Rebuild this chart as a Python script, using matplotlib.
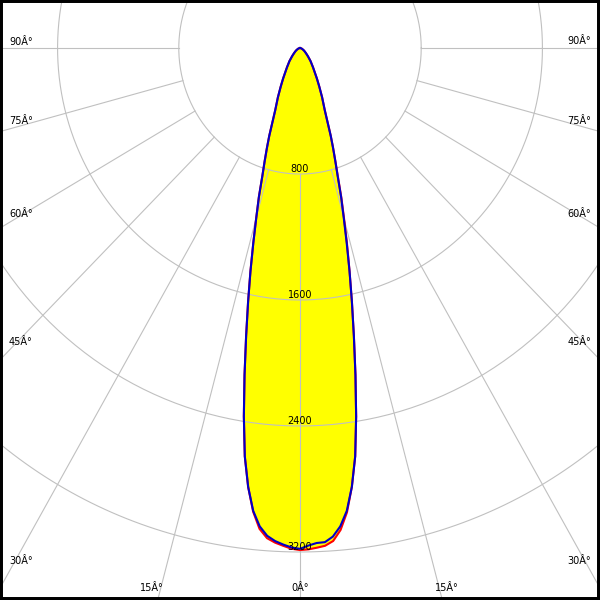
import numpy as np
import matplotlib
matplotlib.use('Agg')
import matplotlib.pyplot as plt

# polar intensity curves, cd (gamma in degrees)
gamma = [0, 1, 2, 3, 4, 5, 6, 7, 8, 9, 10, 11, 12, 13, 14, 15, 16, 17, 18, 19, 20,
         22.5, 25, 27.5, 30, 35, 40, 45, 50, 55, 60, 70, 80, 90]
blue_left = [3180, 3172, 3155, 3135, 3105, 3049, 2955, 2808, 2618, 2369, 2108, 1864, 1648,
             1453, 1273, 1115, 985, 850, 754, 670, 593, 427, 345, 275, 222, 150, 108, 74,
             52, 38, 28, 14, 5, 0]
blue_right = [3180, 3160, 3145, 3142, 3110, 3049, 2955, 2808, 2618, 2369, 2108, 1864, 1648,
              1453, 1273, 1115, 985, 850, 754, 670, 593, 427, 345, 275, 222, 150, 108, 74,
              52, 38, 28, 14, 5, 0]
red_left = [3188, 3180, 3163, 3145, 3120, 3065, 2960, 2808, 2618, 2369, 2108, 1864, 1648,
            1453, 1273, 1115, 985, 850, 754, 670, 593, 427, 345, 275, 222, 150, 108, 74,
            52, 38, 28, 14, 5, 0]
red_right = [3188, 3184, 3175, 3165, 3138, 3072, 2965, 2808, 2618, 2369, 2108, 1864, 1648,
             1453, 1283, 1125, 992, 858, 754, 670, 593, 427, 345, 275, 222, 150, 108, 74,
             52, 38, 28, 14, 5, 0]

rings = [800, 1600, 2400, 3200]
spokes = [0, 15, 30, 45, 60, 75, 90]
spoke_text = ['0Â°', '15Â°', '30Â°', '45Â°', '60Â°', '75Â°', '90Â°']

# where the angle labels sit, in pixels from the top-left corner
label_pos = {
    0: [(300, 588, 'center')],
    15: [(152, 588, 'center'), (447, 588, 'center')],
    30: [(9, 561, 'left'), (591, 561, 'right')],
    45: [(9, 342, 'left'), (591, 342, 'right')],
    60: [(9, 214, 'left'), (591, 214, 'right')],
    75: [(9, 121, 'left'), (591, 121, 'right')],
    90: [(9, 42, 'left'), (591, 41, 'right')],
}


def outline(left, right):
    g = np.radians(gamma)
    l = np.asarray(left, float)
    r = np.asarray(right, float)
    x = np.concatenate([-(l * np.sin(g))[::-1], (r * np.sin(g))[1:]])
    y = np.concatenate([-(l * np.cos(g))[::-1], -(r * np.cos(g))[1:]])
    return x, y


fig = plt.figure(figsize=(6, 6), dpi=100)
ax = fig.add_axes([0, 0, 1, 1])
ax.set_xlim(-1980, 1980)
ax.set_ylim(-3505, 305)
ax.set_xticks([])
ax.set_yticks([])
for s in ax.spines.values():
    s.set_linewidth(4.3)
    s.set_color('black')

rx, ry = outline(red_left, red_right)
bx, by = outline(blue_left, blue_right)
ax.fill(rx, ry, color='#ffff00', lw=0, zorder=1)
ax.fill(bx, by, color='#ffff00', lw=0, zorder=1)

grid_c = '#c0c0c0'
t = np.linspace(0, 2 * np.pi, 400)
for r in rings:
    ax.plot(r * np.cos(t), r * np.sin(t), color=grid_c, lw=0.8, zorder=2)
    ax.text(0, -r + 30, str(r), ha='center', va='center', fontsize=7, zorder=4)

for a in spokes:
    for sgn in (-1, 1):
        if a == 0 and sgn == 1:
            continue
        th = np.radians(a) * sgn
        ax.plot([800 * np.sin(th), 6000 * np.sin(th)],
                [-800 * np.cos(th), -6000 * np.cos(th)],
                color=grid_c, lw=0.8, zorder=2)

ax.plot(rx, ry, color='#ff0000', lw=1.5, zorder=3)
ax.plot(bx, by, color='#0000c8', lw=1.5, zorder=3)

for a, txt in zip(spokes, spoke_text):
    for px, py, ha in label_pos[a]:
        fig.text(px / 600, 1 - py / 600, txt, ha=ha, va='center', fontsize=7)

fig.savefig('out.png', dpi=100)
